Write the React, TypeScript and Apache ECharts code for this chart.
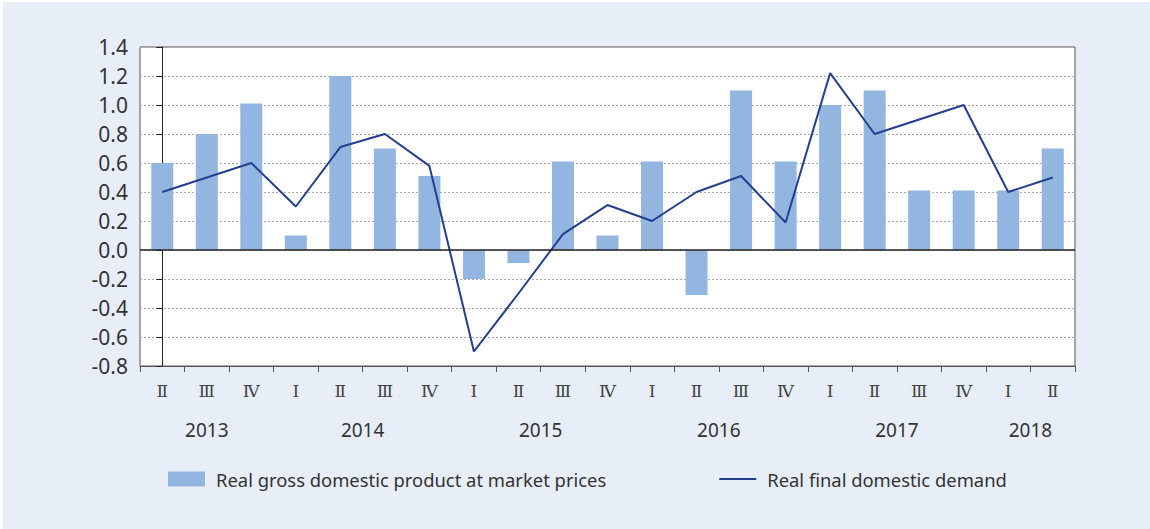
import React, { useEffect, useRef } from "react";
import * as echarts from "echarts";

const quarters = ["Ⅱ", "Ⅲ", "Ⅳ", "Ⅰ", "Ⅱ", "Ⅲ", "Ⅳ", "Ⅰ", "Ⅱ", "Ⅲ", "Ⅳ", "Ⅰ", "Ⅱ", "Ⅲ", "Ⅳ", "Ⅰ", "Ⅱ", "Ⅲ", "Ⅳ", "Ⅰ", "Ⅱ"];
const gdp = [0.6, 0.8, 1.01, 0.1, 1.2, 0.7, 0.51, -0.2, -0.09, 0.61, 0.1, 0.61, -0.31, 1.1, 0.61, 1.0, 1.1, 0.41, 0.41, 0.41, 0.7];
const demand = [0.4, 0.5, 0.6, 0.3, 0.71, 0.8, 0.58, -0.7, -0.3, 0.11, 0.31, 0.2, 0.4, 0.51, 0.19, 1.22, 0.8, 0.9, 1.0, 0.4, 0.5];
const years = ["2013", "2014", "2015", "2016", "2017", "2018"];
const yearCenters = [1, 4.5, 8.5, 12.5, 16.5, 19.5];
const seriesNames = ["Real gross domestic product at market prices", "Real final domestic demand"];

const FONT = '"Noto Sans", "Open Sans", sans-serif';

export default function App() {
  const ref = useRef<HTMLDivElement>(null);
  useEffect(() => {
    document.body.style.margin = "0";
    if (!ref.current) return;
    const chart = echarts.init(ref.current, null, { renderer: "svg" });
    chart.setOption({
      animation: false,
      backgroundColor: "#e7eef8",
      textStyle: { fontFamily: FONT },
      grid: {
        left: 137,
        right: 75,
        top: 45,
        bottom: 163,
        show: true,
        backgroundColor: "#ffffff",
        borderColor: "#555555",
        borderWidth: 1,
      },
      legend: {
        left: 160,
        top: 463,
        itemWidth: 37,
        itemHeight: 15,
        itemGap: 113,
        textStyle: { fontSize: 18.4, color: "#333333", fontFamily: FONT, padding: [0, 0, 0, 6] },
        data: [
          { name: seriesNames[0], icon: "rect" },
          { name: seriesNames[1], icon: "path://M0,0 L37,0 L37,2 L0,2 Z", itemStyle: { color: "#253f8e" } },
        ],
      },
      xAxis: [
        {
          type: "category",
          data: quarters,
          axisLine: { onZero: false, lineStyle: { color: "#555555", width: 1 } },
          axisTick: { show: true, length: 6, lineStyle: { color: "#555555" } },
          axisLabel: {
            interval: 0,
            margin: 16,
            fontSize: 17,
            color: "#444444",
            fontFamily: '"DejaVu Serif", "Liberation Serif", serif',
          },
          splitLine: { show: false },
        },
        {
          type: "value",
          min: -0.5,
          max: 20.5,
          interval: 0.5,
          position: "bottom",
          axisLine: { show: false },
          axisTick: { show: false },
          splitLine: { show: false },
          axisLabel: {
            margin: 54,
            fontSize: 19,
            color: "#333333",
            showMinLabel: true,
            showMaxLabel: true,
            formatter: (v: number) => {
              const i = yearCenters.findIndex((c) => Math.abs(c - v) < 0.01);
              return i >= 0 ? years[i] : "";
            },
          },
        },
      ],
      yAxis: {
        type: "value",
        min: -0.8,
        max: 1.4,
        interval: 0.2,
        axisLine: { show: true, lineStyle: { color: "#222222", width: 1 } },
        axisTick: { show: true, length: 6, lineStyle: { color: "#222222" } },
        axisLabel: {
          margin: 12,
          fontSize: 21,
          color: "#333333",
          formatter: (v: number) => v.toFixed(1),
        },
        splitLine: { show: true, lineStyle: { color: "#aaaaaa", type: [2, 2], width: 1 } },
      },
      series: [
        {
          name: seriesNames[0],
          type: "bar",
          xAxisIndex: 0,
          data: gdp,
          barWidth: 22,
          itemStyle: { color: "#93b6e1" },
          markLine: {
            silent: true,
            symbol: "none",
            label: { show: false },
            lineStyle: { color: "#222222", type: "solid", width: 1.5 },
            data: [{ yAxis: 0 }],
          },
        },
        {
          name: seriesNames[1],
          type: "line",
          xAxisIndex: 0,
          data: demand,
          symbol: "none",
          showSymbol: false,
          lineStyle: { color: "#253f8e", width: 2 },
          itemStyle: { color: "#253f8e" },
          z: 3,
        },
      ],
    });
    return () => chart.dispose();
  }, []);
  return (
    <div style={{ position: "relative", width: 1150, height: 529, background: "#ffffff" }}>
      <div ref={ref} style={{ position: "absolute", left: 3, top: 2, width: 1147, height: 527 }} />
    </div>
  );
}
